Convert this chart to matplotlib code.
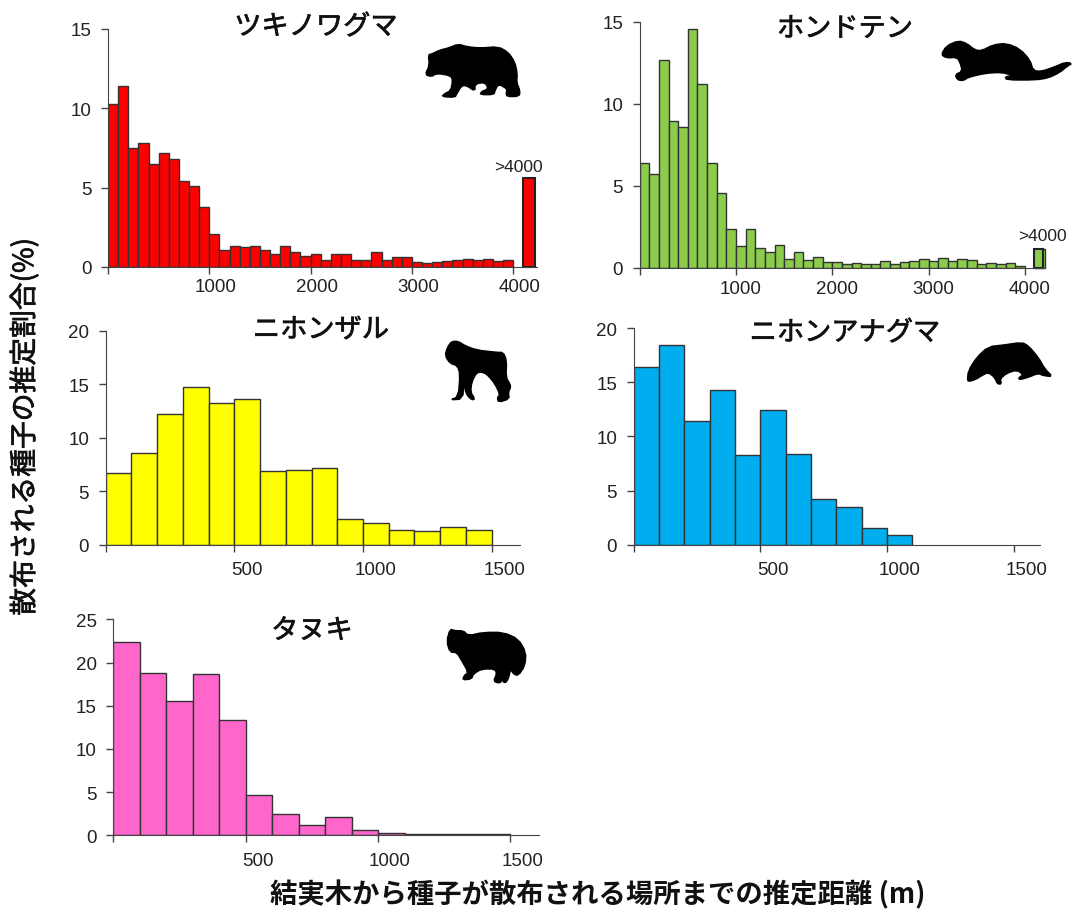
import matplotlib
matplotlib.use("Agg")
import matplotlib.pyplot as plt
import matplotlib.patheffects as pe
from matplotlib.patches import Polygon
from matplotlib.transforms import ScaledTranslation

plt.rcParams['font.family'] = ['Liberation Sans', 'Noto Sans CJK JP', 'DejaVu Sans']

# values (% per 100 m bin)
bear = [10.3, 11.4, 7.5, 7.8, 6.5, 7.2, 6.8, 5.4, 5.1, 3.8, 2.1, 1.1, 1.3, 1.25, 1.35, 1.1, 0.8, 1.3, 0.95, 0.7,
        0.85, 0.45, 0.85, 0.85, 0.45, 0.45, 0.95, 0.45, 0.6, 0.65, 0.3, 0.25, 0.3, 0.4, 0.45, 0.5, 0.45, 0.5, 0.4, 0.45]
bear_over = 5.6
marten = [6.4, 5.75, 12.7, 8.95, 8.6, 14.6, 11.25, 6.4, 4.55, 2.35, 1.35, 2.4, 1.25, 1.0, 1.4, 0.55, 1.0, 0.5, 0.65, 0.35,
          0.35, 0.25, 0.3, 0.25, 0.25, 0.4, 0.25, 0.35, 0.45, 0.55, 0.45, 0.6, 0.45, 0.55, 0.5, 0.25, 0.3, 0.25, 0.3, 0.1]
marten_over = 1.15
macaque = [6.7, 8.6, 12.25, 14.7, 13.27, 13.6, 6.9, 7.0, 7.15, 2.4, 2.0, 1.34, 1.25, 1.62, 1.34]
badger = [16.4, 18.4, 11.4, 14.25, 8.3, 12.4, 8.4, 4.25, 3.5, 1.5, 0.92]
tanuki = [22.4, 18.75, 15.6, 18.65, 13.3, 4.63, 2.5, 1.15, 2.15, 0.58, 0.23, 0.1, 0.1, 0.1, 0.1]

titles = ["ツキノワグマ", "ホンドテン", "ニホンザル", "ニホンアナグマ", "タヌキ"]
long_ticks = [1000, 2000, 3000, 4000]
short_ticks = [500, 1000, 1500]
bin_width = 100

W, H = 1073, 912
fig = plt.figure(figsize=(W / 100, H / 100), dpi=100)

# overlay in pixel coords for titles, labels and the animal shapes
over = fig.add_axes([0, 0, 1, 1], zorder=5)
over.set_xlim(0, W)
over.set_ylim(H, 0)
over.axis("off")

# thin outline, the original text is a bit heavier than the regular weight
heavier = [pe.withStroke(linewidth=0.5, foreground="#111111")]


def panel(vals, color, title, box, xmax, ymax, yticks, xticks, shift, pad, title_xy):
    # box = left, right, top, bottom in pixels
    l, r, t, b = box
    ax = fig.add_axes([l / W, 1 - b / H, (r - l) / W, (b - t) / H])
    edges = [i * bin_width for i in range(len(vals))]
    ax.bar(edges, vals, width=bin_width, align="edge", color=color, edgecolor="#333333", linewidth=1.0)
    ax.set_xlim(0, xmax)
    ax.set_ylim(0, ymax)
    ax.spines["top"].set_visible(False)
    ax.spines["right"].set_visible(False)
    ax.spines["left"].set_color("#444444")
    ax.spines["bottom"].set_color("#444444")
    ax.set_yticks(yticks)
    ax.set_xticks([0] + xticks)
    ax.set_xticklabels([""] + [str(x) for x in xticks])
    ax.tick_params(axis="both", length=5, width=1, color="#444444", labelsize=13.5, labelcolor="#222222")
    ax.tick_params(axis="x", pad=pad)
    ax.tick_params(axis="y", pad=7)
    # the x labels sit a little right of their ticks in the original
    for lab in ax.get_xticklabels():
        lab.set_transform(lab.get_transform() + ScaledTranslation(shift / 100, 0, fig.dpi_scale_trans))
    over.text(title_xy[0], title_xy[1], title, family="Noto Sans CJK JP", weight="regular", fontsize=19.6,
              ha="center", va="center", color="#111111", path_effects=heavier)
    return ax


ax1 = panel(bear, "#FF0000", titles[0], (108, 537, 30, 268), 4235, 15, [0, 5, 10, 15], long_ticks, 6, 3, (316, 28))
ax1.bar(4100, bear_over, width=115, align="edge", color="#FF0000", edgecolor="#222222", linewidth=1.5, clip_on=False)
over.text(518, 168, ">4000", fontsize=12.5, ha="center", va="center", color="#222222")

ax2 = panel(marten, "#8CCB4B", titles[1], (639.7, 1045, 23, 269), 4209, 15, [0, 5, 10, 15], long_ticks, 5, 4, (845, 30))
ax2.bar(4090, marten_over, width=119, align="edge", color="#8CCB4B", edgecolor="#333333", linewidth=1, clip_on=False)
ax2.bar(4090, marten_over, width=95, align="edge", color="#8CCB4B", edgecolor="#222222", linewidth=1.5, clip_on=False)
over.text(1042, 237, ">4000", fontsize=12.5, ha="center", va="center", color="#222222")

panel(macaque, "#FFFF00", titles[2], (105.7, 520, 331.7, 545.7), 1610, 20, [0, 5, 10, 15, 20], short_ticks, 13, 7, (321, 331))
panel(badger, "#00AEEF", titles[3], (633.7, 1040, 329, 545.7), 1604, 20, [0, 5, 10, 15, 20], short_ticks, 13, 7, (845, 334))
panel(tanuki, "#FF66CC", titles[4], (113.3, 539, 620.3, 836.3), 1608, 25, [0, 5, 10, 15, 20, 25], short_ticks, 12, 7, (312, 632))

over.text(25, 428, "散布される種子の推定割合(%)", family=["Noto Sans CJK JP", "DejaVu Sans"], weight="regular",
          fontsize=20, rotation=90, ha="center", va="center", color="#111111", path_effects=heavier)
over.text(598, 895, "結実木から種子が散布される場所までの推定距離 (m)", family=["Noto Sans CJK JP", "DejaVu Sans"],
          weight="bold", fontsize=19.7, ha="center", va="center", color="#111111")

# animal silhouettes, traced by hand from 3x crops: origin + outline
bear_shape = (420, 35, [(15, 122), (28, 95), (25, 62), (35, 60), (60, 48), (85, 42), (115, 30), (140, 38), (180, 42), (235, 38),
                        (265, 55), (285, 85), (292, 120), (290, 145), (300, 170), (298, 187), (262, 188), (258, 178), (262, 165),
                        (235, 150), (225, 170), (222, 182), (180, 182), (185, 172), (205, 165), (195, 145), (165, 150), (165, 172),
                        (140, 155), (125, 155), (110, 180), (105, 190), (65, 188), (75, 178), (92, 170), (98, 140), (92, 125),
                        (50, 118), (35, 128)])
marten_shape = (935, 35, [(18, 62), (35, 35), (70, 20), (95, 28), (120, 48), (140, 50), (175, 32), (215, 28), (255, 45), (285, 78),
                          (295, 110), (320, 112), (360, 98), (390, 85), (412, 88), (395, 98), (375, 115), (340, 132), (300, 138),
                          (215, 138), (210, 128), (235, 125), (200, 115), (150, 118), (100, 130), (85, 140), (68, 138), (60, 122),
                          (82, 112), (75, 85), (65, 70), (35, 72)])
macaque_shape = (440, 335, [(15, 65), (22, 40), (35, 22), (55, 22), (75, 35), (110, 48), (170, 55), (190, 55), (200, 80), (198, 130),
                            (210, 150), (212, 160), (205, 175), (208, 195), (175, 205), (172, 190), (180, 182), (165, 150), (145, 125),
                            (130, 115), (110, 115), (95, 145), (92, 175), (105, 195), (95, 198), (78, 180), (72, 145), (68, 195),
                            (30, 198), (55, 188), (60, 120), (52, 95), (30, 88)])
badger_shape = (960, 335, [(22, 140), (25, 110), (50, 70), (85, 38), (130, 33), (185, 25), (205, 35), (235, 70), (255, 105), (278, 128),
                           (250, 125), (235, 118), (205, 130), (180, 137), (175, 132), (190, 122), (170, 108), (140, 118), (120, 135),
                           (125, 150), (112, 150), (105, 132), (85, 115), (65, 125), (50, 135), (30, 142)])
tanuki_shape = (440, 625, [(20, 52), (30, 15), (45, 20), (70, 20), (85, 35), (130, 25), (190, 25), (235, 45), (258, 85), (255, 125),
                           (235, 155), (220, 150), (212, 135), (205, 165), (195, 178), (185, 168), (180, 178), (160, 172), (170, 150),
                           (165, 135), (125, 135), (100, 150), (95, 165), (68, 168), (72, 155), (85, 145), (65, 110), (50, 85), (30, 85)])


def rounded(pts, times=1):
    # corner cutting so the traced outlines do not look faceted
    for _ in range(times):
        new = []
        for i in range(len(pts)):
            x1, y1 = pts[i]
            x2, y2 = pts[(i + 1) % len(pts)]
            new.append((0.75 * x1 + 0.25 * x2, 0.75 * y1 + 0.25 * y2))
            new.append((0.25 * x1 + 0.75 * x2, 0.25 * y1 + 0.75 * y2))
        pts = new
    return pts


for x0, y0, pts in [bear_shape, marten_shape, macaque_shape, badger_shape, tanuki_shape]:
    over.add_patch(Polygon([(x0 + x / 3, y0 + y / 3) for x, y in rounded(pts)], closed=True, facecolor="black",
                           edgecolor="black", linewidth=1.0, joinstyle="round"))

fig.savefig("out.png", dpi=100)
